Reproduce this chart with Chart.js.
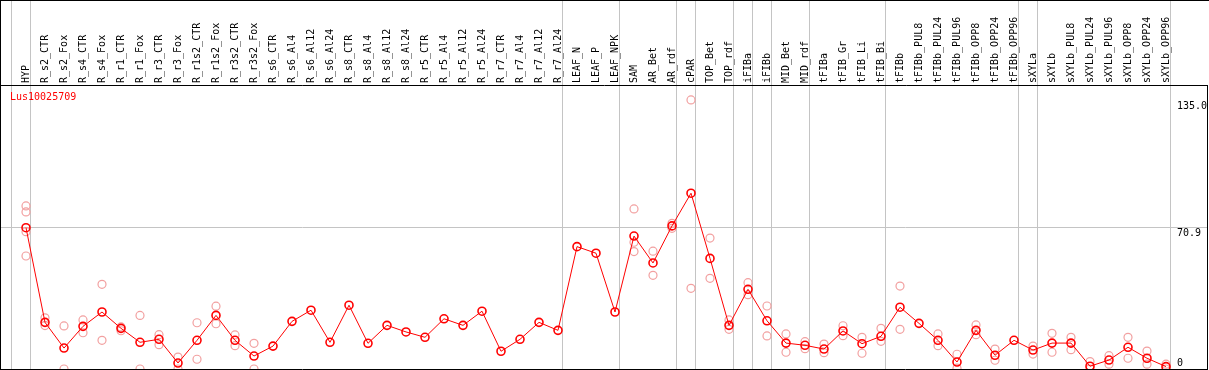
<!DOCTYPE html>
<html><head><meta charset="utf-8">
<script src="https://cdn.jsdelivr.net/npm/chart.js@4.4.1/dist/chart.umd.min.js"></script>
<style>
html,body{margin:0;padding:0;background:#fff;overflow:hidden;}
#wrap{position:absolute;left:0;top:0;width:1208px;height:369px;border-top:1px solid #000;border-left:1px solid #000;}
#c{display:block;}
#gene{position:absolute;left:10px;top:91px;font-family:"DejaVu Sans Mono",monospace;font-size:10px;line-height:12px;color:#f00;}
</style></head><body>
<div id="wrap"><canvas id="c" width="1208" height="369"></canvas></div>
<div id="gene">Lus10025709</div>
<script>
const categories = ["HYP","R_s2_CTR","R_s2_Fox","R_s4_CTR","R_s4_Fox","R_r1_CTR","R_r1_Fox","R_r3_CTR","R_r3_Fox","R_r1s2_CTR","R_r1s2_Fox","R_r3s2_CTR","R_r3s2_Fox","R_s6_CTR","R_s6_Al4","R_s6_Al12","R_s6_Al24","R_s8_CTR","R_s8_Al4","R_s8_Al12","R_s8_Al24","R_r5_CTR","R_r5_Al4","R_r5_Al12","R_r5_Al24","R_r7_CTR","R_r7_Al4","R_r7_Al12","R_r7_Al24","LEAF_N","LEAF_P","LEAF_NPK","SAM","AR_Bet","AR_rdf","cPAR","TOP_Bet","TOP_rdf","iFIBa","iFIBb","MID_Bet","MID_rdf","tFIBa","tFIB_Gr","tFIB_Li","tFIB_Bi","tFIBb","tFIBb_PUL8","tFIBb_PUL24","tFIBb_PUL96","tFIBb_OPP8","tFIBb_OPP24","tFIBb_OPP96","sXYLa","sXYLb","sXYLb_PUL8","sXYLb_PUL24","sXYLb_PUL96","sXYLb_OPP8","sXYLb_OPP24","sXYLb_OPP96"];

const means = [70.9,23.4,10.5,21.4,28.6,20.4,13.4,14.9,3.0,14.4,26.9,14.4,6.5,11.5,23.9,29.5,13.4,32.0,12.9,21.9,18.6,15.9,25.2,21.9,29.0,8.9,14.9,23.4,19.4,61.4,58.1,28.6,66.7,53.2,71.8,88.2,55.5,21.9,40.0,24.2,13.0,11.9,10.0,19.1,12.7,16.4,31.0,22.9,14.4,3.5,19.4,6.9,14.4,9.5,13.0,13.0,1.4,4.5,10.9,5.4,1.2];

const rep1 = [81.8,25.7,21.6,24.6,42.5,21.1,26.9,17.2,6.0,23.2,31.5,17.1,12.9,null,null,null,null,null,null,null,null,null,null,null,null,null,null,null,null,null,null,null,80.3,59.1,73.1,135.0,65.7,24.6,43.3,31.6,17.6,13.7,12.5,21.7,15.9,20.4,41.6,null,17.6,7.4,22.1,10.0,null,11.5,17.9,15.9,3.7,6.7,15.9,9.0,2.4];
const rep2 = [78.8,21.8,0,18.2,14.4,19.2,0,12.2,0,4.9,22.7,11.7,0,null,null,null,null,null,null,null,null,null,null,null,null,null,null,null,null,null,null,null,63.6,47.0,70.6,40.5,45.5,19.9,37.3,16.6,8.4,10.2,8.2,16.7,7.9,13.9,19.9,null,11.7,0.4,17.2,4.4,null,7.5,8.4,9.7,0,2.4,5.4,2.4,0];
const rep3 = [68.9,null,null,null,null,null,null,null,null,null,null,null,null,null,null,null,null,null,null,null,null,null,null,null,null,null,null,null,null,null,null,null,58.9,null,null,null,null,null,null,null,null,null,null,null,null,null,null,null,null,null,null,null,null,null,null,null,null,null,null,null,null];
const rep4 = [56.7,null,null,null,null,null,null,null,null,null,null,null,null,null,null,null,null,null,null,null,null,null,null,null,null,null,null,null,null,null,null,null,null,null,null,null,null,null,null,null,null,null,null,null,null,null,null,null,null,null,null,null,null,null,null,null,null,null,null,null,null];

// separators drawn after these category indices
const groupEnds = [-1,0,28,31,34,35,37,38,39,41,45,52,53,60];
const yTickValues = [0, 70.9, 135.0];
const yTickLabels = ["0", "70.9", "135.0"];

const FONT = "'DejaVu Sans Mono', monospace";
const SEP_SHIFT = 0.25;
const sepValues = groupEnds.map(g => g + SEP_SHIFT);
const isSep = v => sepValues.some(s => Math.abs(s - v) < 1e-6);
const X_MIN = -25/19, X_MAX = X_MIN + 1206/19;

const toPts = arr => arr.map((v, i) => v === null ? null : {x: i, y: v}).filter(p => p !== null);
const noPad = s => { s.paddingLeft = 0; s.paddingRight = 0; s.paddingTop = 0; s.paddingBottom = 0; };

const repStyle = {
  showLine: false, pointRadius: 4, pointHoverRadius: 4, pointBorderWidth: 1.2,
  pointBorderColor: '#f2a0a0', pointBackgroundColor: 'rgba(0,0,0,0)', borderColor: '#f2a0a0'
};

new Chart(document.getElementById('c'), {
  type: 'line',
  data: {
    datasets: [
      { label: 'Lus10025709', data: toPts(means), borderColor: '#ff0000', borderWidth: 1,
        pointRadius: 4, pointHoverRadius: 4, pointBorderWidth: 1.6, pointBorderColor: '#ff0000',
        pointBackgroundColor: 'rgba(0,0,0,0)', tension: 0 },
      Object.assign({ label: 'r1', data: toPts(rep1) }, repStyle),
      Object.assign({ label: 'r2', data: toPts(rep2) }, repStyle),
      Object.assign({ label: 'r3', data: toPts(rep3) }, repStyle),
      Object.assign({ label: 'r4', data: toPts(rep4) }, repStyle)
    ]
  },
  options: {
    responsive: false, animation: false, devicePixelRatio: 1,
    layout: { autoPadding: false, padding: { left: 0, top: 0, right: 1, bottom: 1 } },
    plugins: { legend: { display: false }, tooltip: { enabled: false } },
    events: [],
    scales: {
      x: {
        type: 'linear', position: 'top', min: X_MIN, max: X_MAX,
        afterBuildTicks: s => {
          const t = categories.map((_, i) => i).concat(sepValues).sort((a, b) => a - b);
          s.ticks = t.map(v => ({ value: v }));
        },
        afterFit: s => { s.height = 84; noPad(s); },
        grid: {
          color: c => (c.tick && isSep(c.tick.value)) ? '#c4c4c4' : 'rgba(0,0,0,0)',
          tickColor: c => (c.tick && isSep(c.tick.value)) ? '#c4c4c4' : 'rgba(0,0,0,0)',
          drawTicks: true, tickLength: 84, lineWidth: 1
        },
        border: { display: true, color: '#000', width: 1 },
        ticks: {
          autoSkip: false, minRotation: 90, maxRotation: 90, padding: -82, labelOffset: 12,
          font: { family: FONT, size: 10, lineHeight: 1.2 }, color: '#000',
          callback: v => Number.isInteger(v) && v >= 0 && v < categories.length ? categories[v] : ''
        }
      },
      y: {
        type: 'linear', position: 'right', min: 0, max: 142.5,
        afterBuildTicks: s => { s.ticks = yTickValues.map(v => ({ value: v })); },
        afterFit: s => { s.width = 1; noPad(s); },
        grid: {
          color: c => {
            if (!c.tick) return 'rgba(0,0,0,0)';
            if (c.tick.value === 0) return '#000';
            if (c.tick.value === yTickValues[1]) return '#c4c4c4';
            return 'rgba(0,0,0,0)';
          },
          drawTicks: false, lineWidth: 1
        },
        border: { display: true, color: '#000', width: 1 },
        ticks: {
          mirror: true, crossAlign: 'far', padding: 0,
          font: { family: FONT, size: 10, lineHeight: 1.2 }, color: '#000',
          callback: (v, i) => i === 0 ? [yTickLabels[i], ''] : ['', yTickLabels[i]]
        }
      }
    }
  }
});
</script>
</body></html>
